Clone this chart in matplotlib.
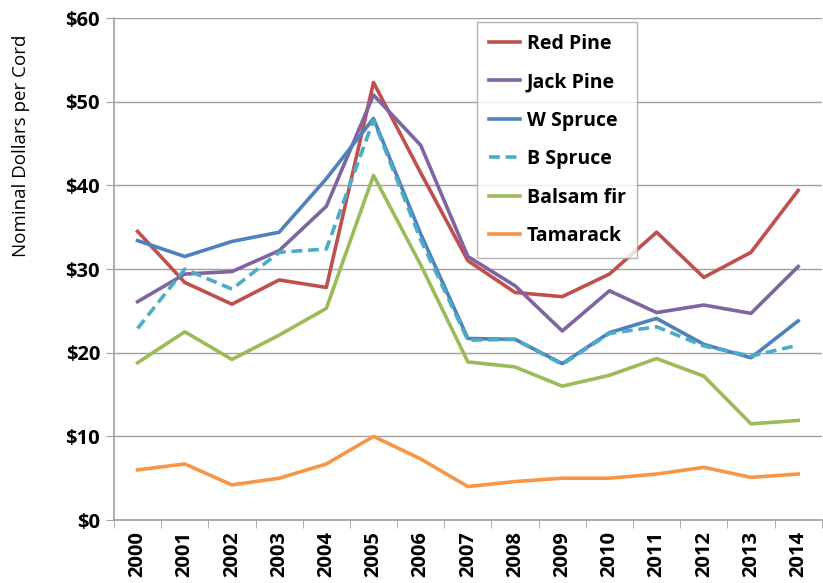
import numpy as np
import matplotlib
matplotlib.use('Agg')
from matplotlib import pyplot as plt

years = ['2000', '2001', '2002', '2003', '2004', '2005', '2006', '2007',
         '2008', '2009', '2010', '2011', '2012', '2013', '2014']
red_pine = [34.5, 28.4, 25.8, 28.7, 27.8, 52.3, 41.5, 31.0, 27.2, 26.7, 29.4, 34.4, 29.0, 32.0, 39.4]
jack_pine = [26.1, 29.4, 29.7, 32.2, 37.5, 50.8, 44.8, 31.5, 28.0, 22.6, 27.4, 24.8, 25.7, 24.7, 30.3]
w_spruce = [33.4, 31.5, 33.3, 34.4, 40.8, 48.0, 34.2, 21.7, 21.6, 18.7, 22.4, 24.1, 21.0, 19.4, 23.8]
b_spruce = [22.9, 30.0, 27.6, 32.0, 32.4, 47.8, 33.5, 21.5, 21.6, 18.6, 22.3, 23.1, 20.8, 19.6, 20.9]
balsam_fir = [18.8, 22.5, 19.2, 22.1, 25.3, 41.2, 30.5, 18.9, 18.3, 16.0, 17.3, 19.3, 17.2, 11.5, 11.9]
tamarack = [6.0, 6.7, 4.2, 5.0, 6.7, 10.0, 7.3, 4.0, 4.6, 5.0, 5.0, 5.5, 6.3, 5.1, 5.5]

plt.rcParams['font.family'] = ['Open Sans', 'DejaVu Sans']

fig = plt.figure(figsize=(8.23, 5.83), dpi=100)
ax = fig.add_axes([0.1385, 0.108, 0.86, 0.861])

x = np.arange(len(years))
lw = 2.6
ax.plot(x, red_pine, color='#C0504D', lw=lw, label='Red Pine')
ax.plot(x, jack_pine, color='#8064A2', lw=lw, label='Jack Pine')
ax.plot(x, w_spruce, color='#4F81BD', lw=lw, label='W Spruce')
ax.plot(x, b_spruce, color='#4BACC6', lw=lw, ls=(0, (3, 1.6)), label='B Spruce')
ax.plot(x, balsam_fir, color='#9BBB59', lw=lw, label='Balsam fir')
ax.plot(x, tamarack, color='#F79646', lw=lw, label='Tamarack')

ax.set_xlim(-0.5, len(years) - 0.5)
ax.set_ylim(0, 60)
ax.set_yticks(range(0, 61, 10))
ax.set_yticklabels(['$%d' % v for v in range(0, 61, 10)], fontsize=14.5, fontweight='bold')
ax.set_xticks(x)
ax.set_xticklabels(years, rotation=90, fontsize=14.5, fontweight='bold')
ax.set_xticks(np.arange(-0.5, len(years), 1), minor=True)
ax.tick_params(axis='x', which='major', length=0, pad=8)
ax.tick_params(axis='x', which='minor', length=6, color='#A0A0A0')
ax.tick_params(axis='y', length=6, color='#A0A0A0', pad=4)

ax.grid(axis='y', color='#A0A0A0', lw=1)
ax.set_axisbelow(True)
for s in ['top', 'right']:
    ax.spines[s].set_visible(False)
for s in ['left', 'bottom']:
    ax.spines[s].set_color('#A0A0A0')
    ax.spines[s].set_linewidth(1.2)

ax.set_ylabel('Nominal Dollars per Cord', fontsize=13.5)
ax.yaxis.set_label_coords(-0.118, 0.745)

leg = ax.legend(loc='upper left', bbox_to_anchor=(0.513, 0.992),
                prop={'weight': 'bold', 'size': 14}, frameon=True, fancybox=False,
                handlelength=1.6, handletextpad=0.35, labelspacing=0.95,
                borderpad=0.6, borderaxespad=0)
leg.get_frame().set_edgecolor('#A0A0A0')
leg.get_frame().set_linewidth(1)

fig.savefig('out.png', dpi=100)
